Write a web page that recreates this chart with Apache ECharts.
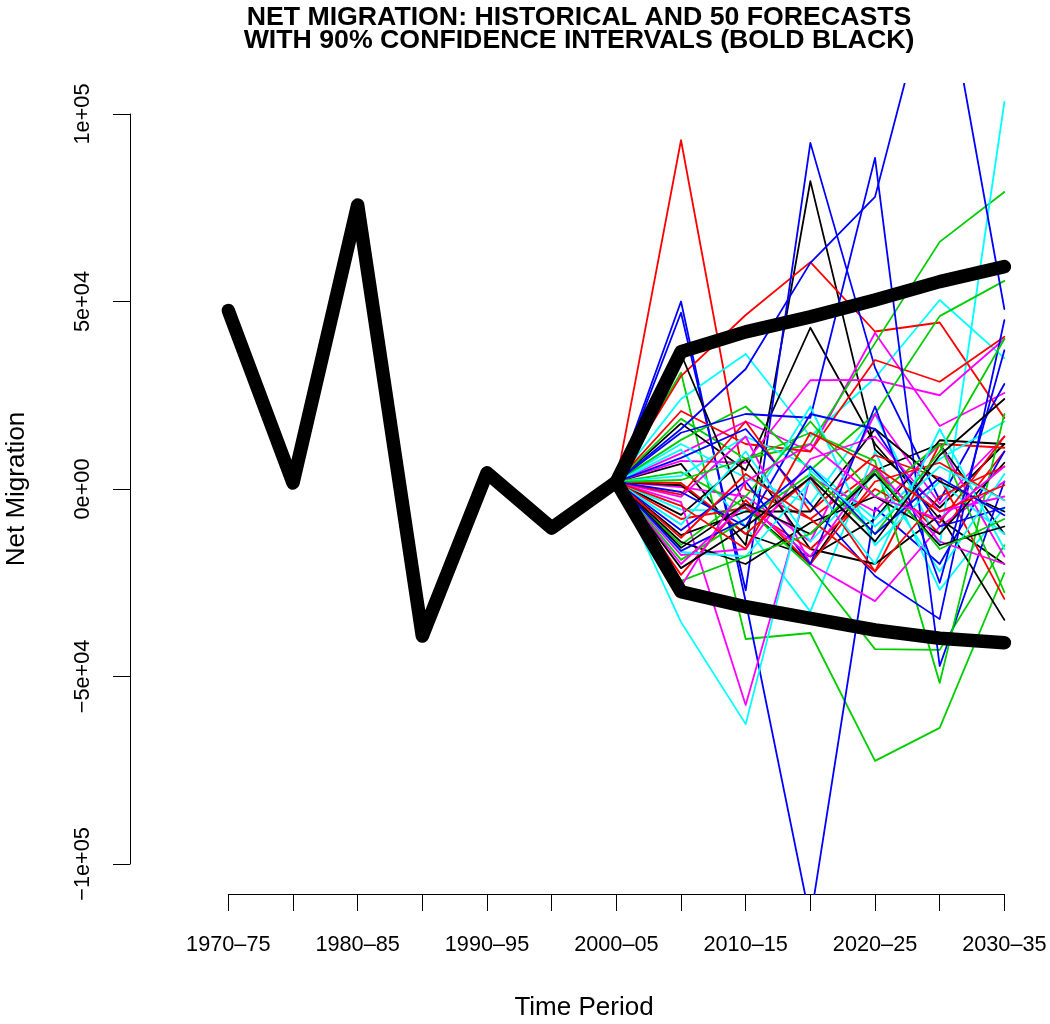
<!DOCTYPE html>
<html>
<head>
<meta charset="utf-8">
<title>Net Migration: Historical and 50 Forecasts</title>
<script src="https://cdn.jsdelivr.net/npm/echarts@6/dist/echarts.min.js"></script>
<style>
  html, body { margin: 0; padding: 0; background: #ffffff; }
  #chart { width: 1050px; height: 1024px; }
</style>
</head>
<body>
<div id="chart"></div>
<script>
// Five-year periods on the x axis
const periods = ['1970–75', '1975–80', '1980–85', '1985–90', '1990–95', '1995–2000',
                 '2000–05', '2005–10', '2010–15', '2015–20', '2020–25', '2025–30', '2030–35'];

// Observed net migration, 1970–75 through 2000–05
const historical = [47600, 1600, 75700, -39200, 4300, -10400, 1900];

// 90% confidence bounds, 2000–05 through 2030–35
const upper90 = [1900, 36600, 41900, 45900, 50400, 55300, 59300];
const lower90 = [1900, -27400, -31400, -34500, -37600, -39800, -41000];

// 50 simulated paths, 2005–10 through 2030–35 (each continues from the 2000–05 value)
const forecastPaths = [
  [6700, -15000, 82100, 10500, -5000, 12000],
  [93000, 0, -8000, 5000, -12000, 10000],
  [31000, -40000, -38400, -72500, -63700, -22400],
  [50000, -30000, -115000, -5000, -20000, 10000],
  [24000, 36000, 14000, 29600, 50400, 34900],
  [9500, 18000, 10000, 41600, 16800, 25600],
  [17500, 5000, 43000, 12000, -8000, -20000],
  [30100, 46400, 60500, 42000, 44400, 18900],
  [18700, 8000, 12000, 38900, 65900, 79200],
  [47000, -27000, 92300, 32300, -3000, 28000],
  [12000, 3000, -4000, 20000, -15000, 103200],
  [7500, 7000, 29000, 29100, 25000, 40000],
  [36000, -5000, -20000, 5000, 12000, -12000],
  [20800, 12000, 10000, 34400, 28600, 40600],
  [13100, 22000, 5000, 20000, 46100, 55500],
  [16000, 32000, 60300, 77900, 144000, 48000],
  [10500, -10000, -32700, 10000, -26900, -5000],
  [500, -2000, -14000, 20000, -4000, 14000],
  [1000, -12000, -18000, -8000, 13000, 12000],
  [1600, -12000, 3000, -22000, 12000, 11000],
  [4500, -5000, -20800, -42700, -42900, -15000],
  [15000, 20000, 19000, 88300, -47200, 2000],
  [3500, 14000, 6000, -8000, 8000, 18000],
  [-2100, 14000, -20000, -29900, -10000, 2000],
  [-6900, 8000, -16000, -20000, -7000, -34900],
  [-1500, 18000, -6000, 9000, 3000, -29300],
  [2400, 8000, 15000, 7500, -51700, 20000],
  [8300, 16000, -4000, -23200, -34700, 45000],
  [-5500, -6000, 22000, -15000, 2000, -12000],
  [-3500, -57600, 3200, -6000, 12000, -18000],
  [-12300, -6000, -6000, 16000, 2000, -6000],
  [-8000, -5000, -16000, 0, -9000, 14000],
  [-14900, -2000, 18000, -2000, 12000, -27500],
  [-800, -10000, 20000, 16000, -10000, -5000],
  [-9500, 10000, -14000, 4000, -22000, 4000],
  [-17600, -16000, 8000, 14000, -6000, -2000],
  [-14100, -20000, -9000, -2000, -12000, 7000],
  [-22900, -3000, -20000, 2000, 7000, -3000],
  [-18900, -8000, 4000, -12000, 10000, 40000],
  [-11000, 2000, -20000, 22000, -25000, 37000],
  [-16800, -18000, 2000, -20000, 16000, -16000],
  [-20000, -4000, -18000, 6000, -14000, -20000],
  [-15700, -4000, -12000, 4000, -15000, -10000],
  [-13000, 4000, -8000, -22000, -2000, 6000],
  [-24500, -18000, -12000, 5000, -16000, -8000],
  [-16500, -8000, 6000, -12000, 3000, -7000],
  [-35500, -62700, 5000, -10000, 6000, -3000],
  [-26000, 2000, 12000, -2000, -8000, 6000],
  [-21100, -10000, 3000, -14000, 9000, 24000],
  [-4500, -16000, 15000, 6000, -6000, 1000]
];

// y-axis ticks and their printed labels
const yTicks = [-100000, -50000, 0, 50000, 100000];
const yTickLabels = ['\u22121e+05', '\u22125e+04', '0e+00', '5e+04', '1e+05'];

// R's default colour cycle for the simulated paths
const palette = ['#000000', '#FF0000', '#00CD00', '#0000FF', '#00FFFF', '#FF00FF'];

const FONT = '"Liberation Sans", Arial, Helvetica, sans-serif';
const forecastStart = historical.length; // x position of 2000–05 (periods are numbered from 1)

function pts(values, startX) {
  return values.map((v, i) => [startX + i, v]);
}

const series = [];

forecastPaths.forEach((path, i) => {
  series.push({
    type: 'line',
    xAxisIndex: 0, yAxisIndex: 0,
    data: pts([historical[historical.length - 1]].concat(path), forecastStart),
    symbol: 'none',
    silent: true,
    lineStyle: { color: palette[i % palette.length], width: 1.8, cap: 'round', join: 'round' },
    z: 2
  });
});

const boldStyle = { color: '#000000', width: 13.5, cap: 'round', join: 'round' };
[[historical, 1], [upper90, forecastStart], [lower90, forecastStart]].forEach(([vals, x0]) => {
  series.push({
    type: 'line',
    xAxisIndex: 0, yAxisIndex: 0,
    data: pts(vals, x0),
    symbol: 'none',
    silent: true,
    lineStyle: boldStyle,
    z: 3
  });
});

const chart = echarts.init(document.getElementById('chart'), null, { renderer: 'canvas' });

chart.setOption({
  animation: false,
  backgroundColor: '#ffffff',
  grid: [
    // plotting region
    { left: 130, top: 84, width: 908, height: 810 },
    // strip carrying the period axis (spans first to last period)
    { left: 228.3, top: 893, width: 776.1, height: 1 },
    // strip carrying the value axis (spans -1e5 to 1e5)
    { left: 130, top: 114, width: 1, height: 750 }
  ],
  xAxis: [
    { gridIndex: 0, type: 'value', min: -0.52, max: 13.52, show: false },
    {
      gridIndex: 1, type: 'value', min: 1, max: 13, interval: 1,
      axisLine: { show: true, lineStyle: { color: '#000', width: 1 } },
      axisTick: { show: true, length: 17, inside: false, lineStyle: { color: '#000', width: 1 } },
      splitLine: { show: false },
      axisLabel: {
        show: true, margin: 40, color: '#000', fontSize: 21.7, fontFamily: FONT,
        showMinLabel: true, showMaxLabel: true,
        formatter: (v) => {
          const k = Math.round(v) - 1;
          return k % 2 === 0 ? periods[k] : '';
        }
      }
    },
    { gridIndex: 2, type: 'value', show: false }
  ],
  yAxis: [
    { gridIndex: 0, type: 'value', min: -108000, max: 108000, show: false },
    { gridIndex: 1, type: 'value', show: false },
    {
      gridIndex: 2, type: 'value', min: -100000, max: 100000, interval: 50000, position: 'left',
      axisLine: { show: true, lineStyle: { color: '#000', width: 1 } },
      axisTick: { show: true, length: 17, inside: false, lineStyle: { color: '#000', width: 1 } },
      splitLine: { show: false },
      axisLabel: {
        show: true, rotate: 90, margin: 36, color: '#000', fontSize: 21.7, fontFamily: FONT,
        showMinLabel: true, showMaxLabel: true,
        formatter: (v) => {
          const k = yTicks.indexOf(Math.round(v));
          return k >= 0 ? yTickLabels[k] : '';
        }
      }
    }
  ],
  graphic: [
    {
      type: 'text', x: 579, y: 18,
      style: { text: 'NET MIGRATION: HISTORICAL AND 50 FORECASTS', fill: '#000',
               font: 'bold 26.7px ' + FONT, align: 'center', verticalAlign: 'middle' }
    },
    {
      type: 'text', x: 579, y: 41,
      style: { text: 'WITH 90% CONFIDENCE INTERVALS (BOLD BLACK)', fill: '#000',
               font: 'bold 26.7px ' + FONT, align: 'center', verticalAlign: 'middle' }
    },
    {
      type: 'text', x: 584, y: 1008,
      style: { text: 'Time Period', fill: '#000', font: '26px ' + FONT,
               align: 'center', verticalAlign: 'middle' }
    },
    {
      type: 'text', x: 17, y: 489, rotation: Math.PI / 2,
      style: { text: 'Net Migration', fill: '#000', font: '26px ' + FONT,
               align: 'center', verticalAlign: 'middle' }
    }
  ],
  series: series
});
</script>
</body>
</html>
